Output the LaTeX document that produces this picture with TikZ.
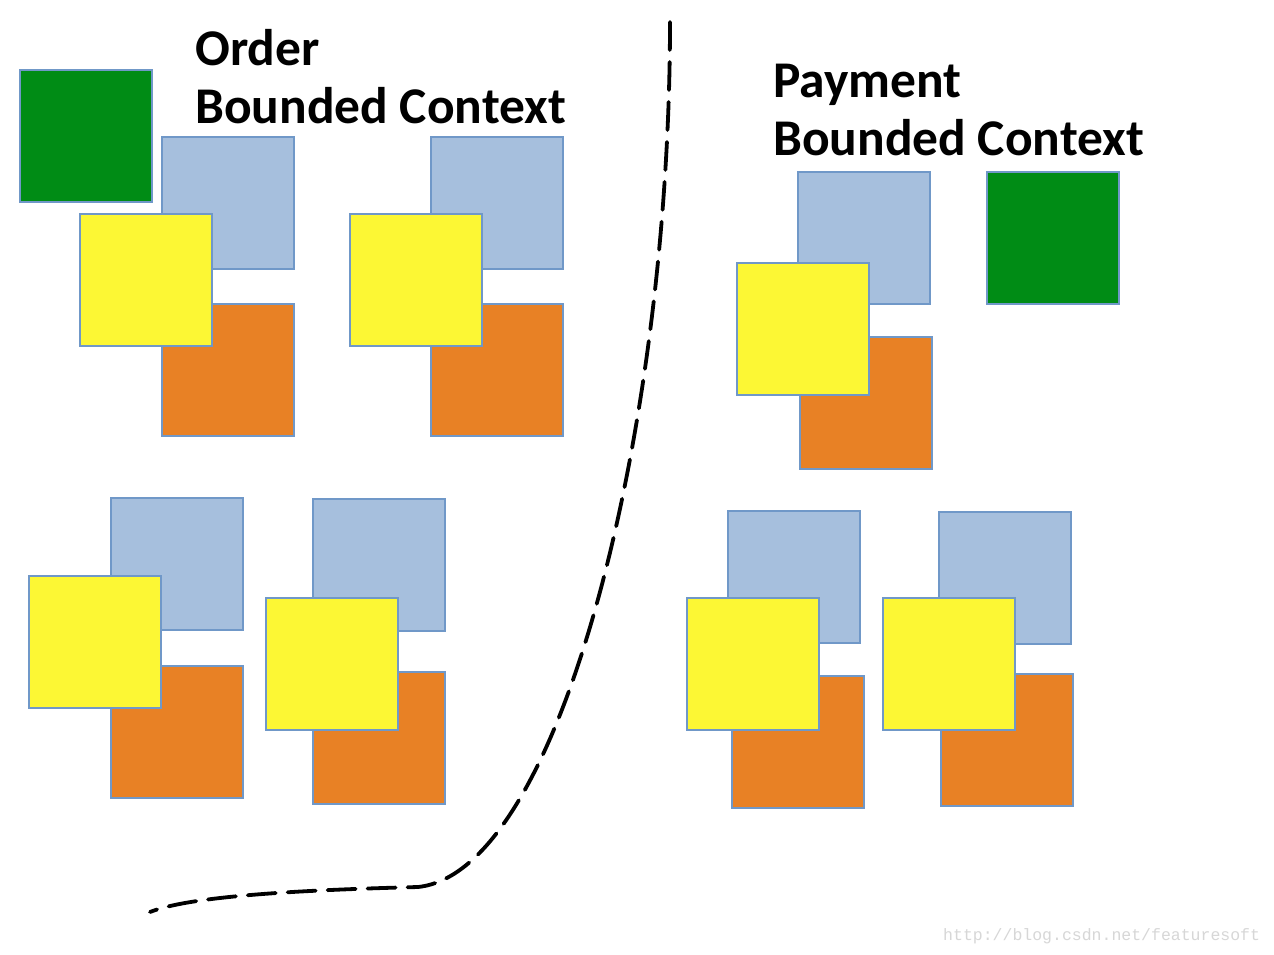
\documentclass[tikz,border=0pt]{standalone}
\usepackage{fontspec}
\setmainfont{Carlito}
\newfontfamily\markfont{Liberation Mono}
\usetikzlibrary{positioning,shadows}
\definecolor{CardEdge}{RGB}{112,152,200}
\definecolor{CardBlue}{RGB}{166,191,221}
\definecolor{CardYellow}{RGB}{252,247,52}
\definecolor{CardOrange}{RGB}{232,129,37}
\definecolor{CardGreen}{RGB}{0,140,21}
\definecolor{MarkGray}{RGB}{215,215,215}
\tikzset{
  card/.style={draw=CardEdge,line width=1.5pt,minimum size=132pt,inner sep=0pt,
    anchor=north west,drop shadow={shadow xshift=1.5pt,shadow yshift=-1.5pt,opacity=0.25}},
  bluecard/.style={card,fill=CardBlue},
  yellowcard/.style={card,fill=CardYellow},
  orangecard/.style={card,fill=CardOrange},
  greencard/.style={card,fill=CardGreen},
  title/.style={anchor=base west,inner sep=0pt,align=left,
    font=\fontsize{51.5}{58}\selectfont\bfseries},
  border/.style={line width=3.8pt,dash pattern=on 28pt off 12pt,line cap=round}
}
\begin{document}
\begin{tikzpicture}[x=1pt,y=-1pt]
  \useasboundingbox[fill=white] (0,0) rectangle (1274,954);

  % context titles
  \node[title] (ordertitle) at (195,123) {Order\\Bounded Context};
  \node[title] (paymenttitle) at (773,155) {Payment\\Bounded Context};

  % aggregates: blue, orange, then yellow on top
  \foreach \n/\bx/\by/\ox/\oy/\yx/\yy in {
      o1/161/136/161/303/79/213,
      o2/430/136/430/303/349/213,
      o3/110/497/110/665/28/575,
      o4/312/498/312/671/265/597,
      p1/797/171/799/336/736/262,
      p2/727/510/731/675/686/597,
      p3/938/511/940/673/882/597} {
    \node[bluecard] (\n-blue) at (\bx,\by) {};
    \node[orangecard] (\n-orange) at (\ox,\oy) {};
    \node[yellowcard] (\n-yellow) at (\yx,\yy) {};
  }
  \node[greencard] (o-green) at (19,69) {};
  \node[greencard] (p-green) at (986,171) {};

  % context boundary
  \draw[border] (670,22) .. controls (670,430) and (560,872) .. (418,887)
    .. controls (300,890) and (190,896) .. (150,912);

  \node[anchor=base west,inner sep=0pt,text=MarkGray,font=\markfont\fontsize{16.5}{18}\selectfont]
    (watermark) at (943,940) {http://blog.csdn.net/featuresoft};
\end{tikzpicture}
\end{document}
